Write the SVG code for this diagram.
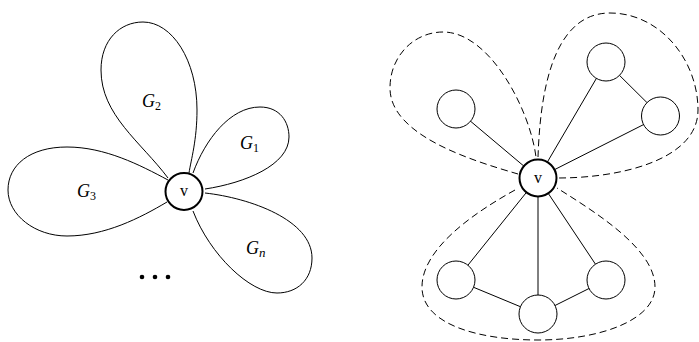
<svg xmlns="http://www.w3.org/2000/svg" width="699" height="342" viewBox="0 0 699 342">
<style>
.edge{fill:none;stroke:#000;stroke-width:1}
.petal{fill:none;stroke:#000;stroke-width:1}
.dash{fill:none;stroke:#000;stroke-width:1;stroke-dasharray:7,4}
.node{fill:#fff;stroke:#000;stroke-width:1}
.hub{fill:#fff;stroke:#000;stroke-width:2}
.m{font-family:"Liberation Serif","DejaVu Serif",serif;font-style:italic;font-size:18px;fill:#000}
.s{font-family:"Liberation Serif","DejaVu Serif",serif;font-style:normal;font-size:12px}
.si{font-family:"Liberation Serif","DejaVu Serif",serif;font-style:italic;font-size:13px}
.lbl{font-family:"Liberation Serif","DejaVu Serif",serif;font-size:16px;fill:#000;text-anchor:middle}
</style>
<rect width="699" height="342" fill="#fff"/>
<g id="connectors">
  <path id="petal-G2" class="petal" d="M168,178 C141,142 101,115 101,70 C101,40 120,22 143,22 C172,22 197,60 197,110 C197,140 191,160 189,173"/>
  <path id="petal-G1" class="petal" d="M193,173 C205,140 230,107 260,107 C280,107 289,122 289,137 C289,165 245,183 205,189"/>
  <path id="petal-Gn" class="petal" d="M205,193 C250,198 312,220 312,258 C312,280 297,293 277,293 C250,293 210,255 193,211"/>
  <path id="petal-G3" class="petal" d="M168,180 C140,165 105,147 67,147 C30,147 8,165 8,190 C8,215 35,236 67,236 C105,236 140,218 167,202"/>
  <path class="dash" d="M518,174 C470,160 390,135 390,88 C390,55 415,32 443,32 C490,32 530,110 536,157"/>
  <path class="dash" d="M538,157 C540,100 550,13 610,13 C660,13 698,60 698,110 C698,160 620,178 558,178"/>
  <path class="dash" d="M515,190 C470,215 422,250 422,287 C422,325 480,340 538,340 C600,340 655,320 655,287 C655,250 600,215 557,188"/>
  <line class="edge" x1="538" y1="178" x2="456" y2="109"/>
  <line class="edge" x1="538" y1="178" x2="606" y2="62"/>
  <line class="edge" x1="538" y1="178" x2="660.5" y2="116"/>
  <line class="edge" x1="606" y1="62" x2="660.5" y2="116"/>
  <line class="edge" x1="538" y1="178" x2="456" y2="280"/>
  <line class="edge" x1="538" y1="178" x2="538" y2="314"/>
  <line class="edge" x1="538" y1="178" x2="606" y2="280"/>
  <line class="edge" x1="456" y1="280" x2="538" y2="314"/>
  <line class="edge" x1="538" y1="314" x2="606" y2="280"/>
</g>
<g id="labels">
  <text class="m" x="142" y="107">G<tspan class="s" dy="3">2</tspan></text>
  <text class="m" x="240" y="149">G<tspan class="s" dy="3">1</tspan></text>
  <text class="m" x="77" y="197">G<tspan class="s" dy="3">3</tspan></text>
  <text class="m" x="246" y="254">G<tspan class="si" dy="3">n</tspan></text>
  <circle cx="142" cy="277" r="2.3" fill="#000"/>
  <circle cx="155" cy="277" r="2.3" fill="#000"/>
  <circle cx="168" cy="277" r="2.3" fill="#000"/>
</g>
<g id="v-left"><circle class="hub" cx="184" cy="191.5" r="18.5"/><text class="lbl" x="184" y="196">v</text></g>
<g id="v-right"><circle class="hub" cx="538" cy="178" r="18.5"/><text class="lbl" x="538" y="182.5">v</text></g>
<g id="n-ul"><circle class="node" cx="456" cy="109" r="19"/></g>
<g id="n-top"><circle class="node" cx="606" cy="62" r="19"/></g>
<g id="n-right"><circle class="node" cx="660.5" cy="116" r="19"/></g>
<g id="n-bl"><circle class="node" cx="456" cy="280" r="19"/></g>
<g id="n-bm"><circle class="node" cx="538" cy="314" r="19"/></g>
<g id="n-br"><circle class="node" cx="606" cy="280" r="19"/></g>
</svg>
